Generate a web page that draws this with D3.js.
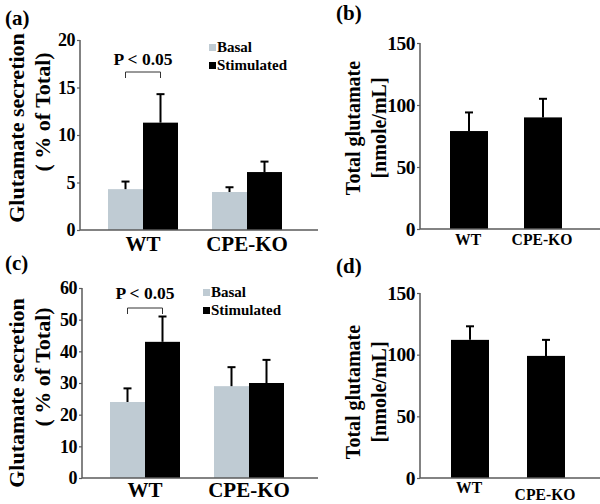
<!DOCTYPE html>
<html><head><meta charset="utf-8">
<script src="https://cdn.jsdelivr.net/npm/d3@7"></script>
<style>
body{margin:0;background:#fff;}
svg{display:block;font-family:"Liberation Serif","Times New Roman",serif;font-weight:bold;}
</style></head><body>
<svg id="chart" width="600" height="504"></svg>
<script>
// ---- data ----
const groups = ["WT", "CPE-KO"];
const seriesNames = ["Basal", "Stimulated"];
// panel (a): glutamate secretion (% of total), first condition
const aBasal = [4.3, 4.0];
const aBasalErr = [0.8, 0.5];
const aStim = [11.3, 6.1];
const aStimErr = [3.0, 1.1];
const aTicks = [0, 5, 10, 15, 20];
// panel (b): total glutamate (nmole/mL)
const bTotal = [79, 90];
const bTotalErr = [15, 15];
const bTicks = [0, 50, 100, 150];
// panel (c): glutamate secretion (% of total), second condition
const cBasal = [24, 29];
const cBasalErr = [4.3, 6];
const cStim = [43, 30];
const cStimErr = [8, 7.3];
const cTicks = [0, 10, 20, 30, 40, 50, 60];
// panel (d): total glutamate (nmole/mL)
const dTotal = [112, 99];
const dTotalErr = [11, 13];
const dTicks = [0, 50, 100, 150];
const pText = "P < 0.05";

const colors = {Basal: "#bfcbd3", Stimulated: "#000000"};
const axisColor = "#5a5a5a";

const svg = d3.select("#chart");

function drawAxes(g, y, ticks, x0, x1, tickFont) {
  const ax = g.append("g").attr("transform", `translate(${x0},0)`)
    .call(d3.axisLeft(y).tickValues(ticks).tickSize(3).tickPadding(2).tickFormat(d3.format("d")));
  ax.select(".domain").attr("stroke", axisColor).attr("stroke-width", 1.5).attr("d", `M0,${y.range()[0]}V${y.range()[1]}`);
  ax.selectAll(".tick line").attr("stroke", axisColor).attr("stroke-width", 1.2);
  ax.selectAll(".tick text").attr("fill", "#000").style("font-size", tickFont + "px")
    .style("font-family", "'Liberation Serif',serif").style("font-weight", "bold").attr("letter-spacing", "-0.5");
  g.append("line").attr("x1", x0).attr("x2", x1).attr("y1", y(0)).attr("y2", y(0))
    .attr("stroke", axisColor).attr("stroke-width", 1.5);
}

function errBar(g, cx, yTop, yVal) {
  g.append("line").attr("x1", cx).attr("x2", cx).attr("y1", yVal).attr("y2", yTop)
    .attr("stroke", "#000").attr("stroke-width", 2);
  g.append("line").attr("x1", cx - 4).attr("x2", cx + 4).attr("y1", yTop).attr("y2", yTop)
    .attr("stroke", "#000").attr("stroke-width", 2);
}

function groupedPanel(opt) {
  const g = svg.append("g");
  const y = d3.scaleLinear().domain([0, opt.ticks[opt.ticks.length - 1]]).range([opt.y0, opt.y1]);
  const x = d3.scaleBand().domain(groups).range(opt.xr).padding(0);
  const xs = d3.scaleBand().domain(seriesNames).range([(x.bandwidth() - 70) / 2, (x.bandwidth() + 70) / 2]).padding(0);
  const data = {Basal: [opt.basal, opt.basalErr], Stimulated: [opt.stim, opt.stimErr]};
  seriesNames.forEach(s => {
    groups.forEach((grp, i) => {
      const v = data[s][0][i], e = data[s][1][i];
      const bx = x(grp) + xs(s);
      g.append("rect").attr("x", bx).attr("y", y(v)).attr("width", xs.bandwidth())
        .attr("height", y(0) - y(v)).attr("fill", colors[s]);
      errBar(g, bx + xs.bandwidth() / 2, y(v + e), y(v));
    });
  });
  drawAxes(g, y, opt.ticks, opt.ax, opt.axEnd, 18);
  groups.forEach(grp => {
    g.append("text").attr("x", x(grp) + x.bandwidth() / 2).attr("y", opt.labY).attr("text-anchor", "middle")
      .style("font-size", "21px").text(grp);
  });
  g.append("text").attr("transform", `translate(${opt.ylx1},${opt.yly1}) rotate(-90)`)
    .attr("text-anchor", "middle").style("font-size", "22px").text("Glutamate secretion");
  g.append("text").attr("transform", `translate(${opt.ylx2},${opt.yly2}) rotate(-90)`)
    .attr("text-anchor", "middle").style("font-size", "22px").text("( % of Total)");
  const bxl = x(groups[0]) + xs("Basal") + xs.bandwidth() / 2;
  const bxr = x(groups[0]) + xs("Stimulated") + xs.bandwidth() / 2;
  g.append("path").attr("d", `M${bxl},${opt.brY + 6}V${opt.brY}H${bxr}V${opt.brY + 6}`)
    .attr("fill", "none").attr("stroke", "#333").attr("stroke-width", 1);
  g.append("text").attr("x", (bxl + bxr) / 2).attr("y", opt.pY).attr("text-anchor", "middle")
    .style("font-size", "17.5px").text(pText);
  seriesNames.forEach((s, i) => {
    const ly = opt.legY + i * 18;
    g.append("rect").attr("x", opt.legX).attr("y", ly - 8).attr("width", 7).attr("height", 7).attr("fill", colors[s]);
    g.append("text").attr("x", opt.legX + 8).attr("y", ly).style("font-size", "15px").text(s);
  });
  g.append("text").attr("x", 5).attr("y", opt.panY).style("font-size", "21px").text(opt.panel);
}

function totalPanel(opt) {
  const g = svg.append("g");
  const y = d3.scaleLinear().domain([0, opt.ticks[opt.ticks.length - 1]]).range([opt.y0, opt.y1]);
  const x = d3.scalePoint().domain(groups).range(opt.xr);
  const w = 38;
  groups.forEach((grp, i) => {
    const v = opt.vals[i], e = opt.errs[i];
    g.append("rect").attr("x", x(grp) - w / 2).attr("y", y(v)).attr("width", w)
      .attr("height", y(0) - y(v)).attr("fill", "#000");
    errBar(g, x(grp), y(v + e), y(v));
  });
  drawAxes(g, y, opt.ticks, opt.ax, 600, 19.5);
  groups.forEach((grp, i) => {
    g.append("text").attr("x", x(grp) - 1).attr("y", opt.labY[i]).attr("text-anchor", "middle")
      .style("font-size", "16.5px").attr("transform", `translate(${x(grp)},0) scale(0.95,1) translate(${-x(grp)},0)`).text(grp);
  });
  g.append("text").attr("transform", `translate(${opt.ylx1},${opt.yly}) rotate(-90)`)
    .attr("text-anchor", "middle").style("font-size", "20px").text("Total glutamate");
  g.append("text").attr("transform", `translate(${opt.ylx2},${opt.yly}) rotate(-90)`)
    .attr("text-anchor", "middle").style("font-size", "20px").text("[nmole/mL]");
  g.append("text").attr("x", 336).attr("y", opt.panY).style("font-size", "21px").text(opt.panel);
}

groupedPanel({panel: "(a)", panY: 25, ticks: aTicks, y0: 230, y1: 40, xr: [91, 299], ax: 80, axEnd: 318,
  basal: aBasal, basalErr: aBasalErr, stim: aStim, stimErr: aStimErr, labY: 251,
  ylx1: 24, yly1: 128, ylx2: 50, yly2: 112, brY: 72, pY: 65, legX: 209, legY: 52});
totalPanel({panel: "(b)", panY: 20, ticks: bTicks, y0: 229, y1: 43, xr: [469, 543], ax: 420,
  vals: bTotal, errs: bTotalErr, labY: [245, 245], ylx1: 360, ylx2: 386, yly: 128});
groupedPanel({panel: "(c)", panY: 270, ticks: cTicks, y0: 478, y1: 288, xr: [93, 301], ax: 82, axEnd: 318,
  basal: cBasal, basalErr: cBasalErr, stim: cStim, stimErr: cStimErr, labY: 497,
  ylx1: 24, yly1: 393, ylx2: 50, yly2: 367, brY: 308, pY: 299, legX: 203, legY: 297});
totalPanel({panel: "(d)", panY: 273, ticks: dTicks, y0: 478, y1: 293, xr: [470, 546], ax: 420,
  vals: dTotal, errs: dTotalErr, labY: [493, 500], ylx1: 360, ylx2: 386, yly: 392});
</script>
</body></html>
